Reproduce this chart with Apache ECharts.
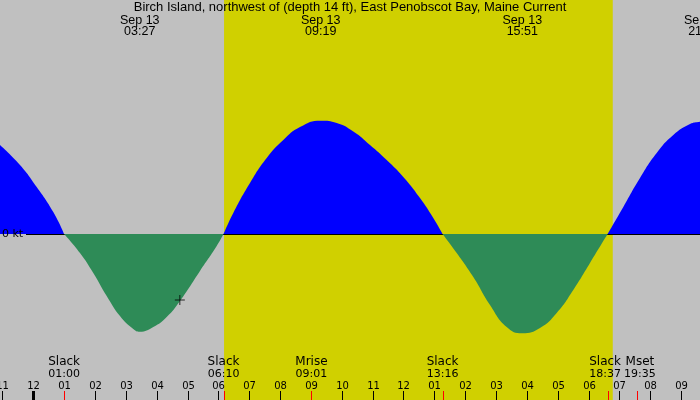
<!DOCTYPE html>
<html><head><meta charset="utf-8">
<script src="https://cdn.jsdelivr.net/npm/echarts@6/dist/echarts.min.js"></script>
<style>html,body{margin:0;padding:0;background:#c0c0c0}#c{width:700px;height:400px}</style>
</head><body><div id="c"></div><script>
const titleText = 'Birch Island, northwest of (depth 14 ft), East Penobscot Bay, Maine Current';
// current speed curve, hours after midnight Sep 13 / knots (flood +, ebb -)
const flowHours = [-1.079, -0.431, 0.110, 0.648, 1.000, 1.514, 1.945, 2.379, 2.810, 3.241, 3.450, 3.890, 4.324, 4.755, 5.403, 5.945, 6.167, 6.483, 7.024, 7.566, 8.104, 8.645, 9.317, 9.835, 10.373, 10.914, 11.455, 11.994, 12.535, 12.966, 13.267, 13.724, 14.263, 14.804, 15.345, 15.850, 16.424, 16.966, 17.504, 18.045, 18.617, 19.125, 19.666, 20.207, 20.746, 21.287, 21.611, 21.733];
const flowKnots = [0.89, 0.69, 0.47, 0.22, 0, -0.19, -0.39, -0.62, -0.82, -0.95, -0.977, -0.93, -0.83, -0.67, -0.37, -0.12, 0, 0.21, 0.51, 0.76, 0.94, 1.07, 1.133, 1.11, 1.025, 0.89, 0.74, 0.57, 0.36, 0.16, 0, -0.19, -0.43, -0.71, -0.93, -0.993, -0.94, -0.79, -0.56, -0.29, 0, 0.27, 0.56, 0.81, 0.99, 1.10, 1.123, 1.13];
const peakDates = ['Sep 13', 'Sep 13', 'Sep 13', 'Sep 13'];
const peakTimes = ['03:27', '09:19', '15:51', '21:44'];
const eventNames = ['Slack', 'Slack', 'Mrise', 'Slack', 'Slack', 'Mset'];
const eventTimes = ['01:00', '06:10', '09:01', '13:16', '18:37', '19:35'];
const hourTicks = [-1, 0, 1, 2, 3, 4, 5, 6, 7, 8, 9, 10, 11, 12, 13, 14, 15, 16, 17, 18, 19, 20, 21];
const hourLabels = ['11', '12', '01', '02', '03', '04', '05', '06', '07', '08', '09', '10', '11', '12', '01', '02', '03', '04', '05', '06', '07', '08', '09'];
const daylight = ['06:11', '18:47'];
const nowMark = [4.75, -0.66];
const zeroLabel = '0 kt';
const axisStartHour = -1.079, axisEndHour = 21.611;

function toH(t) { const p = t.split(':'); return +p[0] + (+p[1]) / 60; }
const flowData = flowHours.map((h, i) => [h, flowKnots[i]]);
const floodData = flowData.map(p => (p[1] >= 0 ? p : [p[0], '-']));
const ebbData = flowData.map(p => (p[1] <= 0 ? p : [p[0], '-']));

const chart = echarts.init(document.getElementById('c'));
const BOT_FONT = '"DejaVu Sans", sans-serif';
const TOP_FONT = '"Liberation Sans", Arial, sans-serif';
const NAME_FONT = '12px ' + BOT_FONT, TIME_FONT = '11px ' + BOT_FONT;
const W = 700, H = 400;

const mctx = document.createElement('canvas').getContext('2d');
function textW(t, f) { mctx.font = f; return mctx.measureText(t).width; }

function eventLayout(api) {
  const xs = eventTimes.map(t => api.coord([toH(t), 0])[0]);
  const ws = eventTimes.map((t, i) => Math.max(textW(t, TIME_FONT), textW(eventNames[i], NAME_FONT)));
  for (let i = 0; i < xs.length - 1; i++) {
    const need = (ws[i] + ws[i + 1]) / 2 + 3;
    const d = xs[i + 1] - xs[i];
    if (d < need) { const s = (need - d) / 2; xs[i] -= s; xs[i + 1] += s; }
  }
  return xs;
}

chart.setOption({
  backgroundColor: '#c0c0c0',
  animation: false,
  title: {
    text: titleText, left: 'center', top: 0, padding: [1, 5],
    textStyle: { fontSize: 13, fontWeight: 'normal', fontFamily: TOP_FONT, color: '#000' }
  },
  grid: { left: 0, right: 0, top: 0, bottom: 0 },
  xAxis: { type: 'value', min: axisStartHour, max: axisEndHour, show: false },
  yAxis: { type: 'value', min: -1.66, max: 2.34, show: false },
  series: [
    {
      name: 'flood', type: 'line', z: 2, data: floodData, smooth: 0.5, symbol: 'none',
      lineStyle: { width: 0 }, areaStyle: { opacity: 1, color: '#0000ff' }, silent: true,
      markArea: {
        silent: true, itemStyle: { color: '#d0d000' },
        data: [[{ xAxis: toH(daylight[0]) }, { xAxis: toH(daylight[1]) }]]
      }
    },
    {
      name: 'zero', type: 'custom', coordinateSystem: 'cartesian2d', z: 3, silent: true, data: [[0, 0]],
      renderItem: (params, api) => {
        const yc = api.coord([0, 0])[1];
        const y = Math.round(yc) + 0.5;
        return { type: 'group', children: [
          { type: 'line', shape: { x1: 26, y1: y, x2: W, y2: y }, style: { stroke: '#000', lineWidth: 1 } },
          { type: 'text', x: 2, y: yc, style: { text: zeroLabel, fill: '#000', font: '11px ' + BOT_FONT,
            align: 'left', verticalAlign: 'middle' } }
        ] };
      }
    },
    {
      name: 'ebb', type: 'line', z: 4, data: ebbData, smooth: 0.5, symbol: 'none',
      lineStyle: { width: 0 }, areaStyle: { opacity: 1, color: '#2e8b57' }, silent: true
    },
    {
      name: 'hours', type: 'custom', coordinateSystem: 'cartesian2d', z: 5, silent: true,
      data: hourTicks.map(h => [h, 0]),
      renderItem: (params, api) => {
        const h = api.value(0);
        const x = Math.round(api.coord([h, 0])[0]) + 0.5;
        return { type: 'group', children: [
          { type: 'line', shape: { x1: x, y1: H - 9, x2: x, y2: H },
            style: { stroke: '#000', lineWidth: (h % 24 === 0) ? 3 : 1 } },
          { type: 'text', x: x, y: H - 14,
            style: { text: hourLabels[params.dataIndex], fill: '#000', font: '10px ' + BOT_FONT,
              align: 'center', verticalAlign: 'middle' } }
        ] };
      }
    },
    {
      name: 'events', type: 'custom', coordinateSystem: 'cartesian2d', z: 6, silent: true,
      data: eventTimes.map(t => [toH(t), 0]),
      renderItem: (params, api) => {
        const x = Math.round(api.coord([api.value(0), 0])[0]) + 0.5;
        const i = params.dataIndex;
        const lx = eventLayout(api)[i];
        return { type: 'group', children: [
          { type: 'line', shape: { x1: x, y1: H - 9, x2: x, y2: H },
            style: { stroke: '#ff0000', lineWidth: 1 } },
          { type: 'text', x: lx, y: H - 38,
            style: { text: eventNames[i], fill: '#000', font: NAME_FONT,
              align: 'center', verticalAlign: 'middle' } },
          { type: 'text', x: lx, y: H - 25.5,
            style: { text: eventTimes[i], fill: '#000', font: TIME_FONT,
              align: 'center', verticalAlign: 'middle' } }
        ] };
      }
    },
    {
      name: 'peaks', type: 'custom', coordinateSystem: 'cartesian2d', z: 6, silent: true,
      data: peakTimes.map(t => [toH(t), 0]),
      renderItem: (params, api) => {
        const x = api.coord([api.value(0), 0])[0];
        const i = params.dataIndex;
        return { type: 'group', children: [
          { type: 'text', x: x, y: 20.5,
            style: { text: peakDates[i], fill: '#000', font: '12.5px ' + TOP_FONT,
              align: 'center', verticalAlign: 'middle' } },
          { type: 'text', x: x, y: 32,
            style: { text: peakTimes[i], fill: '#000', font: '12.5px ' + TOP_FONT,
              align: 'center', verticalAlign: 'middle' } }
        ] };
      }
    },
    {
      name: 'now', type: 'scatter', z: 7, silent: true, data: [nowMark],
      symbol: 'path://M0,4.5H10V5.5H0Z M4.5,0H5.5V10H4.5Z', symbolSize: 10,
      itemStyle: { color: '#000' }
    }
  ]
});
</script></body></html>
